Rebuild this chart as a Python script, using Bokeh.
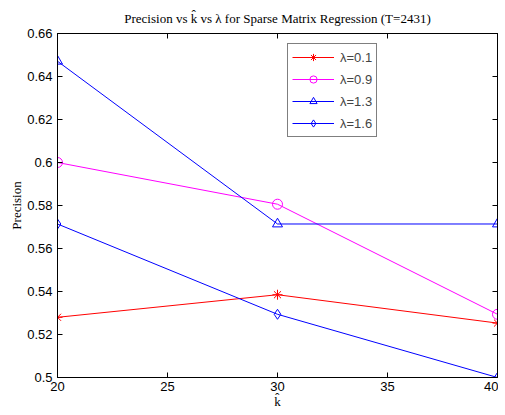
from bokeh.plotting import figure
from bokeh.models import FixedTicker, LinearAxis, Range1d, Legend, LegendItem, CustomJSTickFormatter
from bokeh.embed import file_html
from bokeh.resources import INLINE

k_hat = [20, 30, 40]
prec_l01 = [0.528, 0.5385, 0.5253]
prec_l09 = [0.6, 0.5806, 0.5294]
prec_l13 = [0.6471, 0.5714, 0.5714]
prec_l16 = [0.5714, 0.5294, 0.5]
series_labels = ["λ=0.1", "λ=0.9", "λ=1.3", "λ=1.6"]
x_ticks = [20, 25, 30, 35, 40]
y_ticks = [0.5, 0.52, 0.54, 0.56, 0.58, 0.6, 0.62, 0.64, 0.66]

SANS = "Liberation Sans"
SERIF = "Liberation Serif"

FH = 344
p = figure(frame_width=440, frame_height=FH, output_backend="svg", toolbar_location=None,
           x_range=Range1d(20, 40), y_range=Range1d(0.5, 0.66),
           min_border_left=44, min_border_right=1, min_border_top=26, min_border_bottom=28,
           title="Precision vs k\u0302 vs λ for Sparse Matrix Regression (T=2431)")
p.margin = (0, 0, 0, 6)
p.title.text_font = SERIF
p.title.text_font_size = "13px"
p.title.text_font_style = "normal"
p.title.align = "center"
p.title.text_color = "black"
p.title.standoff = 16

p.grid.visible = False
p.outline_line_color = "black"
p.outline_line_width = 1
p.background_fill_color = "white"
p.border_fill_color = "white"

for ax in p.xaxis:
    ax.ticker = FixedTicker(ticks=x_ticks)
for ax in p.yaxis:
    ax.ticker = FixedTicker(ticks=y_ticks)
for ax in p.xaxis + p.yaxis:
    ax.major_tick_in = 5
    ax.major_tick_out = 0
    ax.minor_tick_line_color = None
    ax.major_label_text_font = SANS
    ax.major_label_text_font_size = "13px"
    ax.major_label_text_color = "black"
    ax.axis_line_color = "black"
    ax.major_tick_line_color = "black"
    ax.axis_label_text_font = SERIF
    ax.axis_label_text_font_size = "13px"
    ax.axis_label_text_font_style = "normal"
    ax.axis_label_text_color = "black"
p.xaxis.major_label_standoff = 4
p.yaxis.major_label_standoff = 5
p.xaxis.axis_label = "k\u0302"
p.yaxis.axis_label = "Precision"
p.xaxis.axis_label_standoff = 0
p.yaxis.axis_label_standoff = 0

empty = CustomJSTickFormatter(code="return ''")
top = LinearAxis(ticker=FixedTicker(ticks=x_ticks), formatter=empty,
                 major_tick_in=5, major_tick_out=0, major_label_standoff=0,
                 minor_tick_line_color=None, axis_line_color="black")
right = LinearAxis(ticker=FixedTicker(ticks=y_ticks), formatter=empty,
                   major_tick_in=5, major_tick_out=0, major_label_standoff=0,
                   minor_tick_line_color=None, axis_line_color="black")
p.add_layout(top, "above")
p.add_layout(right, "right")

styles = [
    (prec_l01, "#ff0000", "asterisk"),
    (prec_l09, "#ff00ff", "circle"),
    (prec_l13, "#0000ff", "triangle"),
    (prec_l16, "#0000ff", "diamond"),
]
items = []
for (ys, col, mk), lab in zip(styles, series_labels):
    r1 = p.line(k_hat, ys, line_color=col, line_width=1)
    r2 = p.scatter(k_hat, ys, marker=mk, size=10, line_color=col, fill_color=None, line_width=1)
    items.append(LegendItem(label=lab, renderers=[r1, r2]))

legend = Legend(items=items, location=(230, FH - 12 - 92), orientation="vertical",
                border_line_color="black", border_line_width=1, background_fill_color="white",
                background_fill_alpha=1, label_text_font=SANS, label_text_font_size="13px",
                glyph_width=42, glyph_height=18, label_height=18, spacing=4, padding=4,
                label_standoff=6, margin=0)
p.add_layout(legend, "center")

open("out.html", "w").write(file_html(p, INLINE))
